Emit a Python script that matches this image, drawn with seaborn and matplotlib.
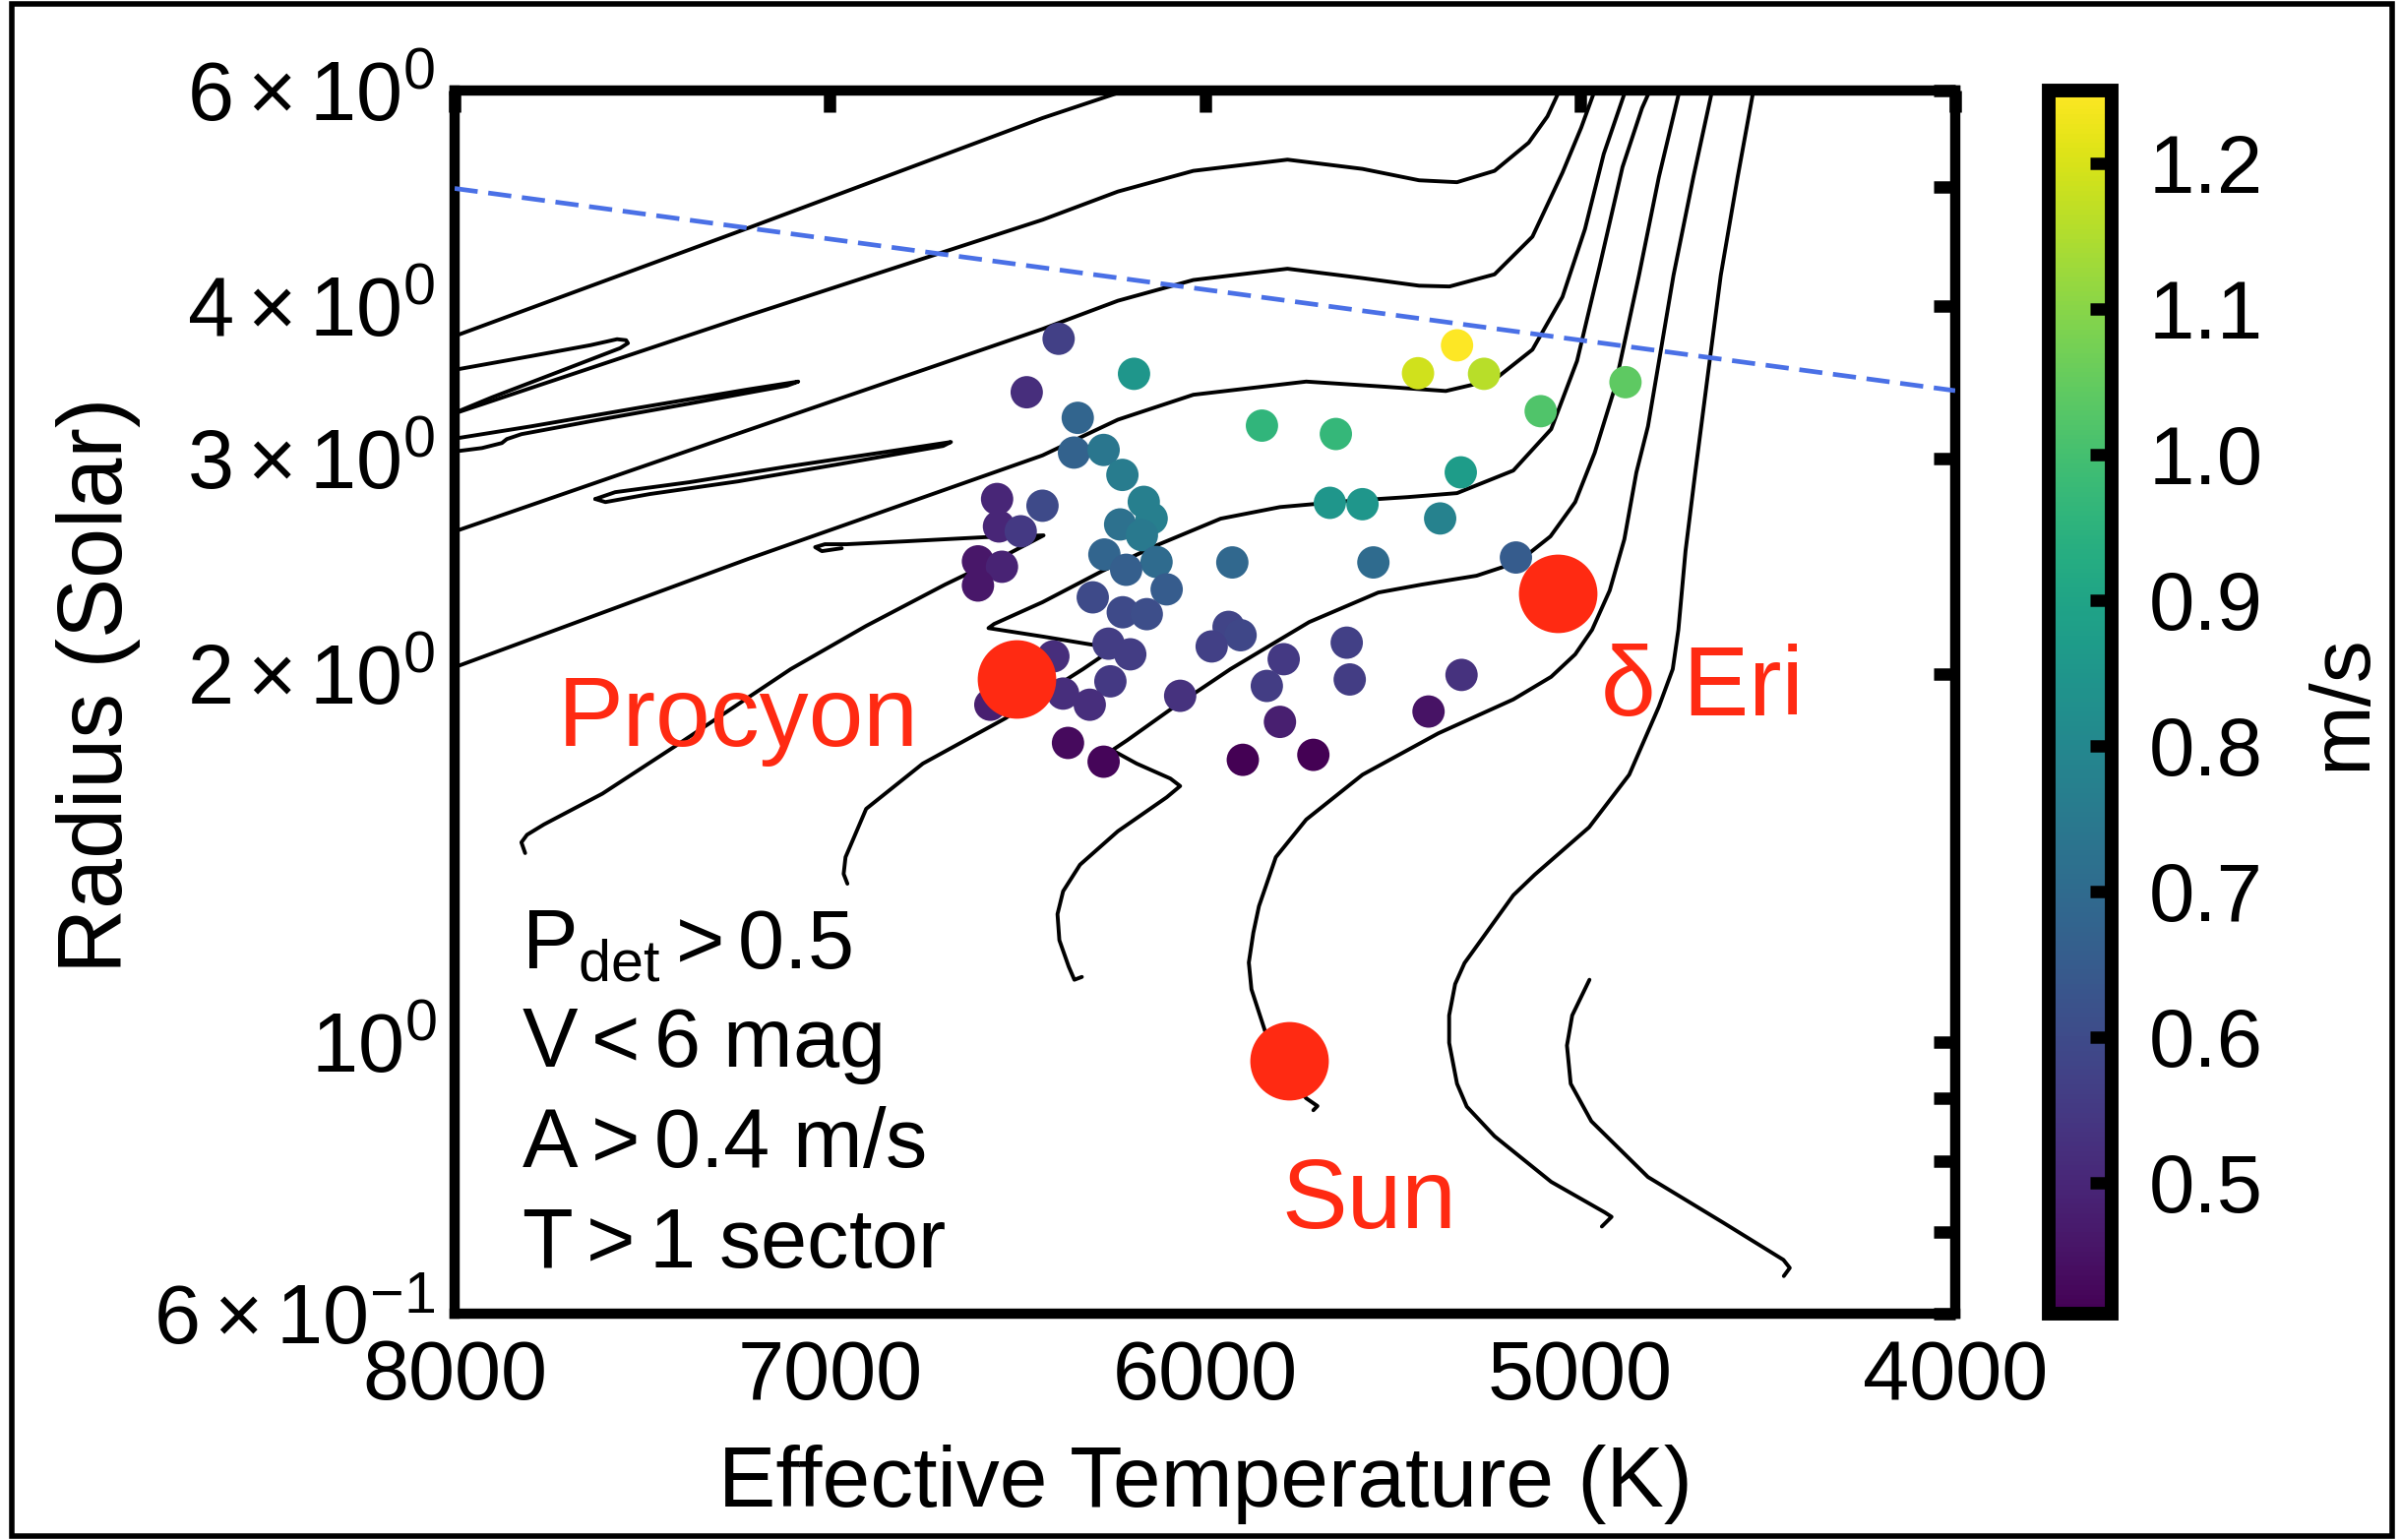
import numpy as np
import pandas as pd
import matplotlib
matplotlib.use("Agg")
import matplotlib.pyplot as plt
import matplotlib.ticker as mticker
from matplotlib.colors import Normalize
import seaborn as sns

# ---------------- data ----------------
star_teff = [6390, 6189, 6475, 6339, 6349, 6270, 6220, 6433, 6163, 6142,
             6226, 6168, 6268, 6129, 6210, 6102, 6299, 6219, 6155, 5937,
             5905, 5982, 6257, 6199, 6404, 5790, 5622, 5927, 5848, 5651,
             5667, 5580, 5551, 5328, 5432, 5256, 5105, 4879, 5318, 5373,
             5171, 5835, 5614, 5316, 6066, 5800, 5404, 5899, 5711, 6270,
             6365, 6554, 6549, 6491, 6605, 6541, 6605, 6252, 6378, 6307, 6572]
star_radius = [3.76, 3.52, 3.40, 3.24, 3.035, 3.05, 2.91, 2.746, 2.766, 2.681,
               2.651, 2.598, 2.505, 2.470, 2.434, 2.346, 2.311, 2.247, 2.239, 2.186,
               2.152, 2.107, 2.118, 2.076, 2.068, 2.057, 2.122, 2.468, 3.193, 3.143,
               2.761, 2.754, 2.468, 3.714, 3.524, 3.520, 3.281, 3.465, 2.924, 2.681,
               2.491, 1.956, 1.980, 1.997, 1.920, 1.828, 1.864, 1.702, 1.718, 1.696,
               1.757, 2.781, 2.641, 2.617, 2.473, 2.448, 2.363, 1.973, 1.928, 1.888, 1.888]
star_amp = [0.57, 0.85, 0.52, 0.68, 0.67, 0.74, 0.76, 0.60, 0.77, 0.77,
            0.72, 0.75, 0.68, 0.70, 0.66, 0.65, 0.60, 0.60, 0.61, 0.58,
            0.59, 0.57, 0.56, 0.56, 0.52, 0.55, 0.57, 0.69, 0.96, 0.97,
            0.85, 0.85, 0.70, 1.25, 1.19, 1.16, 1.02, 1.04, 0.87, 0.78,
            0.65, 0.56, 0.56, 0.53, 0.53, 0.48, 0.45, 0.41, 0.41, 0.42,
            0.43, 0.50, 0.50, 0.55, 0.46, 0.49, 0.46, 0.55, 0.52, 0.52, 0.48]

named_stars = ["Procyon", "Sun", "δ Eri"]
named_teff = [6501, 5775, 5060]
named_radius = [1.98, 0.965, 2.33]
label_teff = [7725, 5795, 4945]
label_radius = [1.747, 0.705, 1.850]

criteria_lines = ["$\\mathregular{P_{det} > 0.5}$", "$\\mathregular{V < 6}$ mag",
                  "$\\mathregular{A > 0.4}$ m/s", "$\\mathregular{T > 1}$ sector"]
criteria_y = [0.2824, 0.2019, 0.1199, 0.0378]

# evolutionary tracks: effective temperature [K] and radius [Rsun]
track_teff = [
    # subgiant of the most massive track
    [8058, 8008, 7218, 6433, 6213, 6155],
    # hook 1
    [8058, 8008, 7795, 7638, 7567, 7543, 7538, 7559, 7743, 7900, 8008, 8058],
    # subgiant 2 + giant branch
    [8058, 8008, 7218, 6433, 6232, 6031, 5780, 5580, 5429, 5328, 5228, 5137, 5087, 5055, 5045],
    # hook 2
    [8058, 8008, 7795, 7507, 7218, 7084, 7113, 7375, 7638, 7822, 7861, 7874, 7927, 8008, 8058],
    # subgiant 3 + giant branch
    [8058, 8008, 7218, 6433, 6232, 6031, 5780, 5580, 5429, 5348, 5228, 5127, 5047, 4997, 4961, 4950],
    # hook 3
    [7625, 7572, 7375, 7113, 6850, 6677, 6698, 6982, 7244, 7480, 7598, 7625],
    # subgiant 4 + giant branch
    [8058, 8000, 7218, 6433, 6232, 6031, 5730, 5529, 5358, 5228, 5127, 5047, 4987, 4937, 4879, 4869],
    # main sequence + hook 4
    [7812, 7822, 7807, 7762, 7606, 7405, 7104, 6903, 6693, 6535, 6430,
     6588, 6798, 6955, 7013, 7039, 7021, 6968],
    # track through Procyon
    [6953, 6963, 6958, 6903, 6752, 6531, 6457, 6396, 6325, 6252, 6273, 6430, 6577, 6562,
     6504, 6433, 6273, 6131, 5958, 5800, 5609, 5459, 5328, 5178, 5077, 5008, 4948, 4887,
     4835, 4814, 4806],
    # next lower mass
    [6328, 6348, 6363, 6388, 6393, 6378, 6333, 6232, 6102, 6066, 6092, 6182, 6247, 6207,
     6089, 5932, 5722, 5538, 5423, 5276, 5165, 5079, 5013, 4961, 4908, 4843, 4790, 4735, 4727],
    # solar track
    [5711, 5700, 5730, 5800, 5840, 5876, 5883, 5871, 5856, 5811, 5730, 5580, 5378, 5178,
     5077, 5013, 4968, 4921, 4882, 4850, 4819, 4782, 4751, 4698, 4648, 4641],
    # lower mass
    [4942, 4916, 4934, 5077, 5228, 5302, 5328, 5349, 5349, 5333, 5308, 5178, 5121, 4976,
     4869, 4790, 4753, 4738, 4719, 4693, 4659, 4625, 4580, 4538, 4533],
    # lowest mass
    [4975, 5021, 5035, 5025, 4970, 4819, 4618, 4458, 4441, 4457],
]
track_radius = [
    [3.715, 3.771, 4.631, 5.697, 6.0, 6.09],
    [3.514, 3.543, 3.640, 3.715, 3.757, 3.750, 3.729, 3.694, 3.514, 3.368, 3.263, 3.219],
    [3.219, 3.261, 3.928, 4.704, 4.961, 5.158, 5.268, 5.177, 5.067, 5.049, 5.158, 5.439,
     5.715, 6.0, 6.09],
    [3.107, 3.113, 3.189, 3.303, 3.418, 3.469, 3.443, 3.328, 3.219, 3.142, 3.113, 3.090,
     3.061, 3.039, 3.028],
    [2.577, 2.611, 3.166, 3.830, 4.039, 4.200, 4.290, 4.215, 4.155, 4.149, 4.245, 4.557,
     5.140, 5.595, 6.0, 6.09],
    [2.781, 2.817, 2.870, 2.956, 3.039, 3.096, 3.073, 2.967, 2.875, 2.807, 2.765, 2.781],
    [1.997, 2.026, 2.484, 3.019, 3.229, 3.384, 3.469, 3.437, 3.408, 3.482, 3.684, 4.068,
     4.622, 5.324, 6.0, 6.09],
    [1.428, 1.457, 1.478, 1.507, 1.597, 1.752, 2.019, 2.190, 2.367, 2.498, 2.597,
     2.588, 2.568, 2.554, 2.554, 2.540, 2.521, 2.535],
    [1.348, 1.373, 1.417, 1.552, 1.690, 1.841, 1.909, 1.956, 2.019, 2.091, 2.107, 2.146,
     2.181, 2.198, 2.239, 2.290, 2.429, 2.547, 2.680, 2.739, 2.772, 2.791, 2.812, 2.934,
     3.172, 3.607, 4.308, 5.194, 5.804, 6.0, 6.09],
    [1.131, 1.125, 1.153, 1.212, 1.273, 1.329, 1.397, 1.488, 1.586, 1.620, 1.643, 1.690,
     1.733, 1.766, 1.874, 2.019, 2.206, 2.332, 2.367, 2.407, 2.470, 2.592, 2.765, 3.034,
     3.424, 4.237, 5.098, 6.0, 6.09],
    [0.880, 0.887, 0.900, 0.953, 1.022, 1.105, 1.162, 1.229, 1.292, 1.417, 1.521, 1.655,
     1.789, 1.907, 1.990, 2.076, 2.174, 2.341, 2.578, 2.923, 3.189, 3.722, 4.237, 5.098,
     6.0, 6.09],
    [0.707, 0.720, 0.726, 0.769, 0.838, 0.886, 0.925, 0.999, 1.052, 1.116, 1.161, 1.319,
     1.371, 1.499, 1.655, 1.881, 2.019, 2.174, 2.521, 2.923, 3.521, 4.237, 5.098, 6.0, 6.09],
    [1.125, 1.052, 0.994, 0.925, 0.862, 0.776, 0.712, 0.664, 0.654, 0.644],
]

# blue dashed reference line (straight in log R)
limit_teff = [8000, 4000]
limit_radius = [4.99, 3.41]

# axis ticks
y_major = [1.0]
y_minor = [0.6, 0.7, 0.8, 0.9, 2, 3, 4, 5, 6]
y_minor_labels = {0.6: r"$\mathregular{6\times10^{-1}}$", 2: r"$\mathregular{2\times10^{0}}$",
                  3: r"$\mathregular{3\times10^{0}}$", 4: r"$\mathregular{4\times10^{0}}$",
                  6: r"$\mathregular{6\times10^{0}}$"}
x_ticks = [8000, 7000, 6000, 5000, 4000]
cbar_ticks = [0.5, 0.6, 0.7, 0.8, 0.9, 1.0, 1.1, 1.2]
vmin, vmax = 0.41, 1.25

# ---------------- style ----------------
sns.set_theme(style="white")
plt.rcParams["font.family"] = ["Liberation Sans", "DejaVu Sans"]
plt.rcParams["mathtext.fontset"] = "custom"
plt.rcParams["mathtext.rm"] = "Liberation Sans"
plt.rcParams["mathtext.it"] = "Liberation Sans"
plt.rcParams["mathtext.default"] = "regular"
plt.rcParams["axes.axisbelow"] = False
for k in ["text.color", "axes.labelcolor", "xtick.color", "ytick.color", "axes.edgecolor"]:
    plt.rcParams[k] = "black"

DPI = 100
fig = plt.figure(figsize=(24.4, 15.65), dpi=DPI)
W, H = 2440, 1565
ax = fig.add_axes([462 / W, 1 - 1335 / H, (1987 - 462) / W, (1335 - 92) / H])
cax = fig.add_axes([2082 / W, 1 - 1335 / H, (2146 - 2082) / W, (1335 - 92) / H])

# outer frame
fig.patches.append(plt.Rectangle((12 / W, 4 / H), (2431 - 12) / W, (1561 - 4) / H,
                                 transform=fig.transFigure, fill=False,
                                 edgecolor="black", linewidth=4, zorder=0))

ax.set_yscale("log")
ax.set_xlim(8000, 4000)
ax.set_ylim(0.6, 6)

# tracks
for tt, rr in zip(track_teff, track_radius):
    sns.lineplot(x=tt, y=rr, ax=ax, sort=False, estimator=None, color="black",
                 linewidth=2.8, zorder=2)

# blue dashed line
ax.plot(limit_teff, limit_radius, color="#4a70e6", linewidth=3.4, dashes=(5, 2.3), zorder=3)

# stars
df = pd.DataFrame({"teff": star_teff, "radius": star_radius, "amp": star_amp})
norm = Normalize(vmin=vmin, vmax=vmax)
sns.scatterplot(data=df, x="teff", y="radius", hue="amp", palette="viridis",
                hue_norm=norm, s=560, linewidth=0, legend=False, ax=ax, zorder=4)

red = "#ff2a12"
ax.scatter(named_teff, named_radius, s=3300, color=red, linewidth=0, zorder=5)
for name, t, r in zip(named_stars, label_teff, label_radius):
    ax.text(t, r, name, color=red, fontsize=72, ha="left", va="baseline", zorder=6)

for line, yy in zip(criteria_lines, criteria_y):
    ax.text(0.0446, yy, line, transform=ax.transAxes, fontsize=61, ha="left",
            va="baseline", color="black", zorder=6)

# axes styling
for s in ax.spines.values():
    s.set_linewidth(7.5)
    s.set_color("black")
ax.set_xticks(x_ticks)
ax.xaxis.set_major_formatter(mticker.FixedFormatter([str(v) for v in x_ticks]))
ax.yaxis.set_major_locator(mticker.FixedLocator(y_major))
ax.yaxis.set_major_formatter(mticker.FixedFormatter([r"$\mathregular{10^{0}}$"]))
ax.yaxis.set_minor_locator(mticker.FixedLocator(y_minor))
ax.yaxis.set_minor_formatter(mticker.FixedFormatter([y_minor_labels.get(v, "") for v in y_minor]))
ax.tick_params(axis="both", which="both", direction="in", length=16, width=9,
               top=True, right=True, labelsize=61, color="black")
ax.tick_params(axis="x", which="minor", bottom=False, top=False)
ax.tick_params(axis="x", which="major", pad=18)
ax.tick_params(axis="y", which="minor", pad=14)
ax.tick_params(axis="y", which="major", pad=13)
ax.set_xlabel("Effective Temperature (K)", fontsize=63, labelpad=20)
ax.set_ylabel("Radius (Solar)", fontsize=66, labelpad=9)
ax.yaxis.label.set_y(0.514)

# colorbar
sm = plt.cm.ScalarMappable(norm=norm, cmap="viridis")
cb = fig.colorbar(sm, cax=cax, ticks=cbar_ticks)
cb.outline.set_linewidth(10)
cb.outline.set_edgecolor("black")
cax.set_axisbelow(False)
cax.yaxis.set_ticks_position("right")
cax.tick_params(axis="y", which="major", direction="in", length=16, width=9,
                labelsize=60, pad=27, right=True, left=False, color="black")
cax.minorticks_off()
cax.set_yticklabels([f"{v:.1f}" for v in cbar_ticks])
cb.set_label("m/s", fontsize=62, labelpad=30)

fig.savefig("out.png", dpi=DPI)
